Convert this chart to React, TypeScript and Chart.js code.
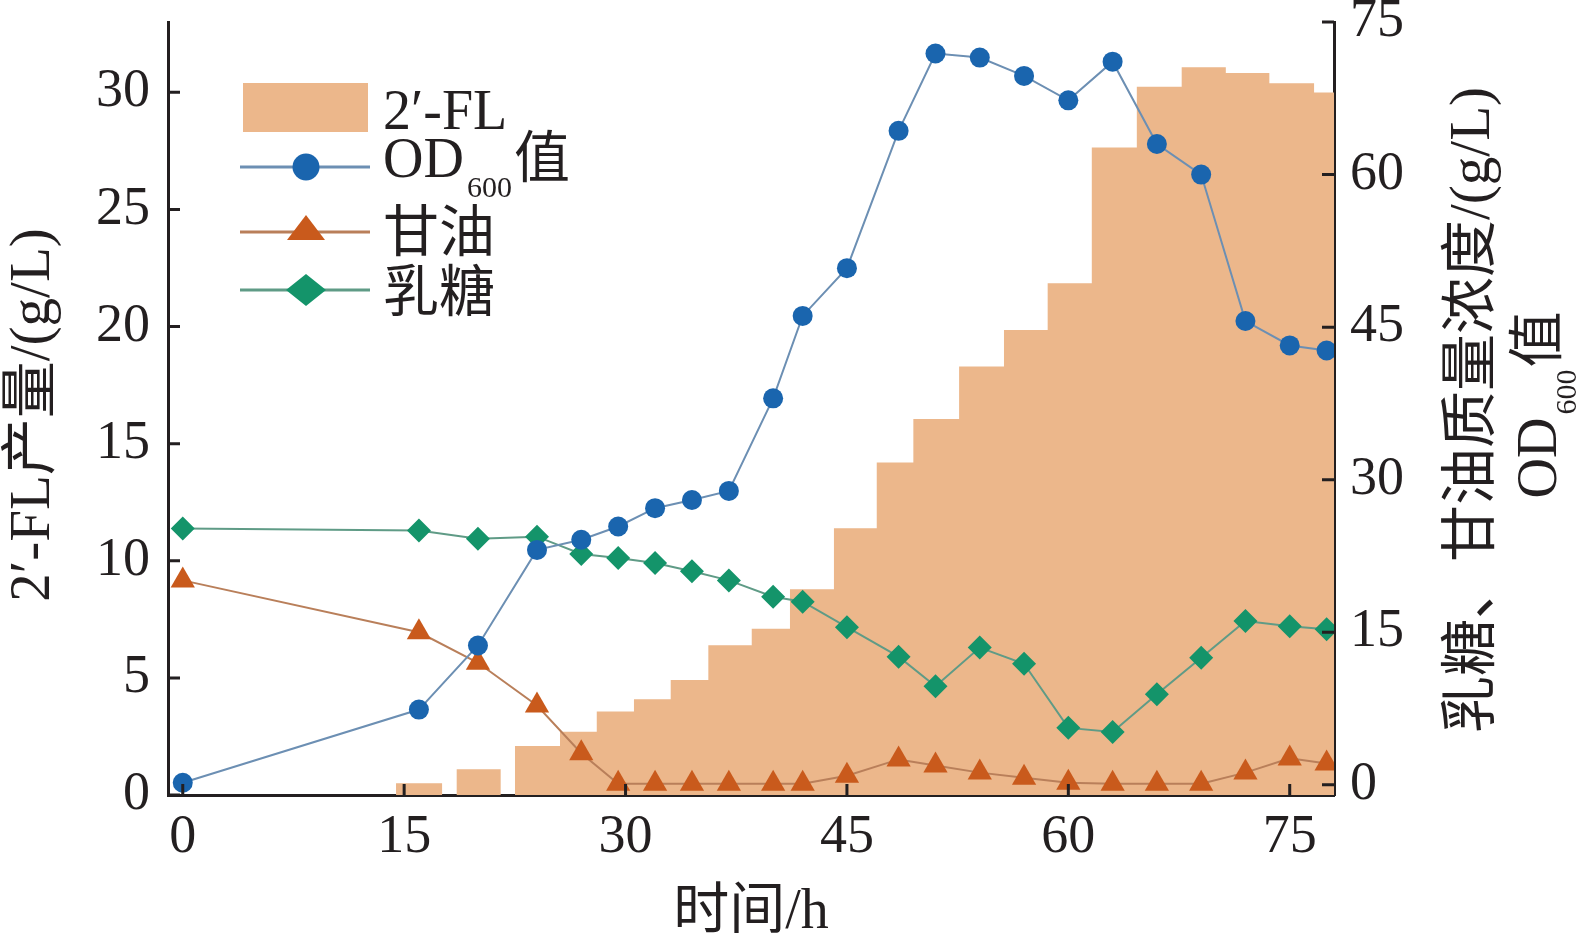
import React, { useEffect, useRef } from 'react';
import { Chart, registerables } from 'chart.js';

Chart.register(...registerables);

// ---------------- data ----------------
const timePoints = [0, 16, 20, 24, 27, 29.5, 32, 34.5, 37, 40, 42, 45, 48.5, 51, 54, 57, 60, 63, 66, 69, 72, 75, 77.5];
const od600 = [0.2, 7.4, 13.7, 23.1, 24.1, 25.4, 27.2, 28.0, 28.9, 38.0, 46.1, 50.8, 64.3, 71.9, 71.5, 69.7, 67.3, 71.1, 63.0, 60.0, 45.6, 43.2, 42.7];
const glycerol = [20.1, 15.0, 12.0, 7.8, 3.1, 0.1, 0.1, 0.1, 0.1, 0.1, 0.1, 0.9, 2.5, 1.9, 1.2, 0.7, 0.2, 0.1, 0.1, 0.1, 1.2, 2.6, 2.1];
const lactose = [25.2, 25.0, 24.2, 24.4, 22.7, 22.3, 21.8, 21.0, 20.1, 18.5, 18.0, 15.5, 12.6, 9.7, 13.5, 11.9, 5.6, 5.2, 8.9, 12.5, 16.1, 15.6, 15.3];

// 2'-FL production: each value holds from its start time to the next start time
const flStepStart = [14.45, 17.57, 18.56, 21.54, 22.51, 25.56, 28.05, 30.57, 33.06, 35.61, 38.55, 41.14, 44.12, 47.02, 49.5, 52.6, 55.64, 58.6, 61.59, 64.64, 67.68, 70.67, 73.62, 76.65, 78];
const flValue = [0.5, 0, 1.1, 0, 2.09, 2.7, 3.56, 4.09, 4.91, 6.39, 7.1, 8.78, 11.39, 14.19, 16.05, 18.29, 19.85, 21.85, 27.64, 30.24, 31.07, 30.82, 30.39, 29.99, 29.99];

const xTicks = [0, 15, 30, 45, 60, 75];
const leftTicks = [0, 5, 10, 15, 20, 25, 30];
const rightTicks = [0, 15, 30, 45, 60, 75];

const legendLabels = ['2\u2032-FL', 'OD', '600', '值', '甘油', '乳糖'];
const xTitle = '时间/h';
const leftTitle = '2\u2032-FL产量/(g/L)';
const rightTitle1 = '乳糖、甘油质量浓度/(g/L)';
const rightTitle2 = ['OD', '600', '值'];

// ---------------- styles ----------------
const FONT = '"Liberation Serif", "Noto Sans CJK SC", serif';
const TEXT = '#231F20';
const AXIS = '#231F20';
const FL_FILL = '#ECB78B';
const OD_POINT = '#1A65AE';
const OD_LINE = '#6C8FB3';
const GLY_POINT = '#C95A1C';
const GLY_LINE = '#B97F5A';
const LAC_POINT = '#14946A';
const LAC_LINE = '#5F9B86';

const W = 1576;
const H = 941;

const ticksPlugin = {
  id: 'inwardTicks',
  afterDraw(chart: any) {
    const { ctx, chartArea, scales } = chart;
    ctx.save();
    ctx.strokeStyle = AXIS;
    ctx.lineWidth = 3;
    ctx.beginPath();
    xTicks.forEach((v) => {
      const px = scales.x.getPixelForValue(v);
      ctx.moveTo(px, chartArea.bottom);
      ctx.lineTo(px, chartArea.bottom - 11);
    });
    leftTicks.forEach((v) => {
      const py = scales.y.getPixelForValue(v);
      ctx.moveTo(chartArea.left, py);
      ctx.lineTo(chartArea.left + 12, py);
    });
    rightTicks.forEach((v) => {
      const py = scales.y1.getPixelForValue(v);
      ctx.moveTo(chartArea.right, py);
      ctx.lineTo(chartArea.right - 12, py);
    });
    ctx.stroke();
    ctx.restore();
  },
};

const legendPlugin = {
  id: 'customLegend',
  afterDraw(chart: any) {
    const { ctx, chartArea } = chart;
    const L = chartArea.left;
    const T = chartArea.top;
    const mx = L + 138;
    const lx0 = L + 72;
    const lx1 = L + 202;
    const tx = L + 215;
    ctx.save();
    // 2'-FL swatch
    ctx.fillStyle = FL_FILL;
    ctx.fillRect(L + 75, T + 61, 125, 49);
    // OD row
    const yOD = T + 145;
    ctx.strokeStyle = OD_LINE;
    ctx.lineWidth = 3;
    ctx.beginPath();
    ctx.moveTo(lx0, yOD);
    ctx.lineTo(lx1, yOD);
    ctx.stroke();
    ctx.fillStyle = OD_POINT;
    ctx.beginPath();
    ctx.arc(mx, yOD, 13.5, 0, Math.PI * 2);
    ctx.fill();
    // glycerol row
    const yG = T + 210;
    ctx.strokeStyle = GLY_LINE;
    ctx.beginPath();
    ctx.moveTo(lx0, yG);
    ctx.lineTo(lx1, yG);
    ctx.stroke();
    ctx.fillStyle = GLY_POINT;
    ctx.beginPath();
    ctx.moveTo(mx, yG - 17);
    ctx.lineTo(mx + 19, yG + 8);
    ctx.lineTo(mx - 19, yG + 8);
    ctx.closePath();
    ctx.fill();
    // lactose row
    const yL = T + 268;
    ctx.strokeStyle = LAC_LINE;
    ctx.beginPath();
    ctx.moveTo(lx0, yL);
    ctx.lineTo(lx1, yL);
    ctx.stroke();
    ctx.fillStyle = LAC_POINT;
    ctx.beginPath();
    ctx.moveTo(mx, yL - 16);
    ctx.lineTo(mx + 20, yL);
    ctx.lineTo(mx, yL + 16);
    ctx.lineTo(mx - 20, yL);
    ctx.closePath();
    ctx.fill();

    // texts
    ctx.fillStyle = TEXT;
    ctx.textAlign = 'left';
    ctx.textBaseline = 'alphabetic';
    ctx.font = `56px ${FONT}`;
    ctx.fillText(legendLabels[0], tx, T + 107);
    ctx.fillText(legendLabels[1], tx, T + 155);
    const wOD = ctx.measureText(legendLabels[1]).width;
    ctx.font = `30px ${FONT}`;
    ctx.fillText(legendLabels[2], tx + wOD + 3, T + 175);
    const w600 = ctx.measureText(legendLabels[2]).width;
    ctx.font = `56px ${FONT}`;
    ctx.fillText(legendLabels[3], tx + wOD + 3 + w600 + 2, T + 155);
    ctx.fillText(legendLabels[4], tx, T + 229);
    ctx.fillText(legendLabels[5], tx, T + 289);
    ctx.restore();
  },
};

const titlesPlugin = {
  id: 'axisTitles',
  afterDraw(chart: any) {
    const { ctx, chartArea } = chart;
    ctx.save();
    ctx.fillStyle = TEXT;
    ctx.textAlign = 'center';
    ctx.textBaseline = 'middle';
    // x title
    ctx.font = `56px ${FONT}`;
    ctx.fillText(xTitle, (chartArea.left + chartArea.right) / 2, chartArea.bottom + 118);
    // left title
    ctx.font = `57px ${FONT}`;
    ctx.save();
    ctx.translate(chartArea.left - 134, 415);
    ctx.rotate(-Math.PI / 2);
    ctx.fillText(leftTitle, 0, 0);
    ctx.restore();
    // right title line 1
    ctx.font = `57px ${FONT}`;
    ctx.save();
    ctx.translate(chartArea.right + 140, 410);
    ctx.rotate(-Math.PI / 2);
    ctx.fillText(rightTitle1, 0, 0);
    ctx.restore();
    // right title line 2 with subscript
    ctx.save();
    ctx.translate(chartArea.right + 204, 405);
    ctx.rotate(-Math.PI / 2);
    ctx.textAlign = 'left';
    ctx.textBaseline = 'alphabetic';
    ctx.font = `56px ${FONT}`;
    const wA = ctx.measureText(rightTitle2[0]).width;
    const wC = ctx.measureText(rightTitle2[2]).width;
    ctx.font = `30px ${FONT}`;
    const wB = ctx.measureText(rightTitle2[1]).width;
    const total = wA + 3 + wB + 2 + wC;
    let x = -total / 2;
    const base = 18;
    ctx.font = `56px ${FONT}`;
    ctx.fillText(rightTitle2[0], x, base);
    x += wA + 3;
    ctx.font = `30px ${FONT}`;
    ctx.fillText(rightTitle2[1], x, base + 20);
    x += wB + 2;
    ctx.font = `56px ${FONT}`;
    ctx.fillText(rightTitle2[2], x, base);
    ctx.restore();
    ctx.restore();
  },
};

export default function App() {
  const canvasRef = useRef<HTMLCanvasElement | null>(null);

  useEffect(() => {
    if (!canvasRef.current) return;
    const toXY = (xs: number[], ys: number[]) => xs.map((x, i) => ({ x, y: ys[i] }));
    const tickFont = { family: FONT, size: 54 };
    const noPadY = (s: any) => {
      s.paddingTop = 0;
      s.paddingBottom = 0;
    };

    const chart = new Chart(canvasRef.current, {
      type: 'line',
      data: {
        datasets: [
          {
            label: 'OD600值',
            data: toXY(timePoints, od600),
            yAxisID: 'y1',
            borderColor: OD_LINE,
            borderWidth: 2,
            backgroundColor: OD_POINT,
            pointBackgroundColor: OD_POINT,
            pointBorderColor: OD_POINT,
            pointBorderWidth: 0,
            pointRadius: 10,
            pointStyle: 'circle',
            tension: 0,
            fill: false,
            order: 1,
          },
          {
            label: '乳糖',
            data: toXY(timePoints, lactose),
            yAxisID: 'y1',
            borderColor: LAC_LINE,
            borderWidth: 2,
            backgroundColor: LAC_POINT,
            pointBackgroundColor: LAC_POINT,
            pointBorderColor: LAC_POINT,
            pointBorderWidth: 0,
            pointRadius: 12,
            pointStyle: 'rectRot',
            tension: 0,
            fill: false,
            order: 2,
          },
          {
            label: '甘油',
            data: toXY(timePoints, glycerol),
            yAxisID: 'y1',
            borderColor: GLY_LINE,
            borderWidth: 2,
            backgroundColor: GLY_POINT,
            pointBackgroundColor: GLY_POINT,
            pointBorderColor: GLY_POINT,
            pointBorderWidth: 0,
            pointRadius: 14,
            pointStyle: 'triangle',
            tension: 0,
            fill: false,
            order: 3,
          },
          {
            label: '2\u2032-FL',
            data: toXY(flStepStart, flValue),
            yAxisID: 'y',
            stepped: true,
            borderWidth: 0,
            borderColor: 'rgba(0,0,0,0)',
            backgroundColor: FL_FILL,
            pointRadius: 0,
            fill: 'origin',
            tension: 0,
            order: 10,
          },
        ],
      },
      options: {
        responsive: false,
        animation: false,
        devicePixelRatio: 1,
        layout: { padding: { top: 22, left: 0, right: 0, bottom: 0 } },
        plugins: {
          legend: { display: false },
          tooltip: { enabled: false },
          title: { display: false },
        },
        scales: {
          x: {
            type: 'linear',
            min: -1,
            max: 78,
            grid: { display: false, drawTicks: false },
            border: { display: true, color: AXIS, width: 3 },
            ticks: { font: tickFont, color: TEXT, padding: 10, autoSkip: false, maxRotation: 0 },
            afterBuildTicks: (s: any) => {
              s.ticks = xTicks.map((v) => ({ value: v }));
            },
            afterFit: (s: any) => {
              s.height = 146;
              s.paddingLeft = 0;
              s.paddingRight = 0;
            },
          },
          y: {
            type: 'linear',
            position: 'left',
            min: 0,
            max: 33,
            grid: { display: false, drawTicks: false },
            border: { display: true, color: AXIS, width: 3 },
            ticks: { font: tickFont, color: TEXT, padding: 18 },
            afterBuildTicks: (s: any) => {
              s.ticks = leftTicks.map((v) => ({ value: v }));
            },
            afterFit: (s: any) => {
              s.width = 168;
              noPadY(s);
            },
          },
          y1: {
            type: 'linear',
            position: 'right',
            min: -1,
            max: 75,
            grid: { display: false, drawTicks: false },
            border: { display: true, color: AXIS, width: 3 },
            ticks: { font: tickFont, color: TEXT, padding: 16 },
            afterBuildTicks: (s: any) => {
              s.ticks = rightTicks.map((v) => ({ value: v }));
            },
            afterFit: (s: any) => {
              s.width = W - 1334;
              noPadY(s);
            },
          },
        },
      },
      plugins: [ticksPlugin, legendPlugin, titlesPlugin],
    } as any);

    return () => {
      chart.destroy();
    };
  }, []);

  return (
    <div style={{ position: 'fixed', left: 0, top: 0, width: W, height: H, background: '#ffffff' }}>
      <canvas ref={canvasRef} width={W} height={H} style={{ width: W, height: H, display: 'block' }} />
    </div>
  );
}
